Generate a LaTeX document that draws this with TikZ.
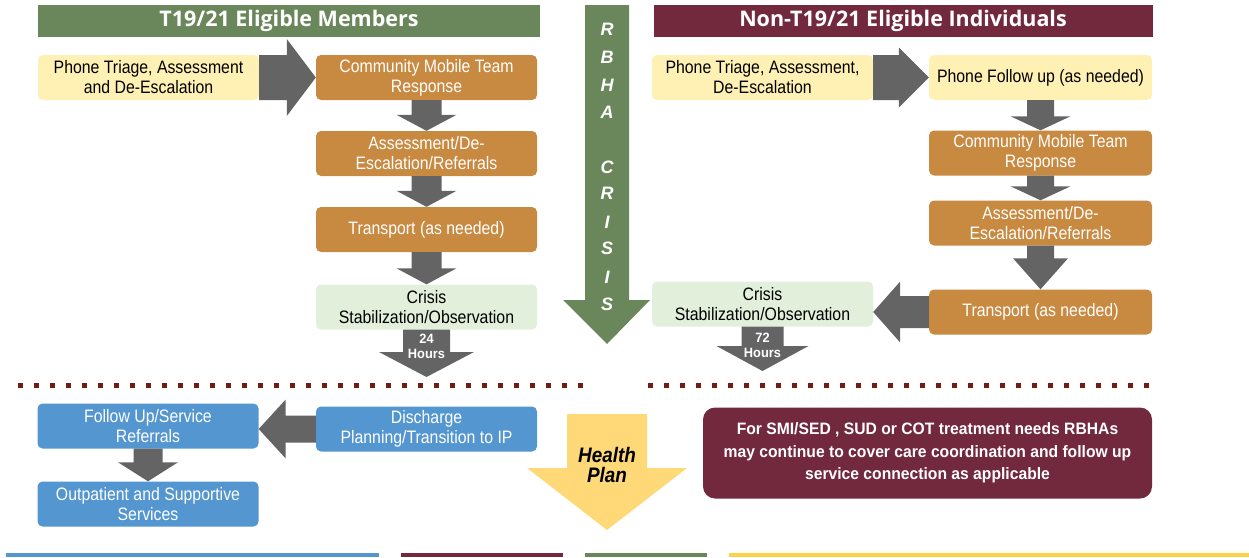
\documentclass[tikz,border=0pt]{standalone}
\usepackage{fontspec}
\setmainfont{Liberation Sans}
\newfontfamily\bxf[FakeStretch=0.88]{Liberation Sans}
\newfontfamily\ntf[FakeStretch=0.95]{Liberation Sans}
\newfontfamily\hpf[FakeStretch=0.9]{Liberation Sans}
\newfontfamily\hdf{Open Sans}
\usetikzlibrary{calc}
\definecolor{hdgreen}{RGB}{106,135,91}
\definecolor{hdmaroon}{RGB}{114,41,61}
\definecolor{boxorange}{RGB}{200,137,65}
\definecolor{boxyellow}{RGB}{255,241,180}
\definecolor{boxgreen}{RGB}{226,239,218}
\definecolor{arrgray}{RGB}{100,100,100}
\definecolor{boxblue}{RGB}{84,150,208}
\definecolor{hpyellow}{RGB}{255,217,119}
\definecolor{dotred}{RGB}{112,30,20}
\definecolor{stripyellow}{RGB}{250,212,70}
% down block arrow: #1 start, #2 tip, #3 shaft half width, #4 head half width, #5 head length
\newcommand{\darr}[5]{\fill[arr] let \p1=(#1), \p2=(#2) in
  (\x1-#3pt,\y1) -- (\x1+#3pt,\y1) -- (\x1+#3pt,\y2+#5pt) -- (\x1+#4pt,\y2+#5pt) --
  (\x1,\y2) -- (\x1-#4pt,\y2+#5pt) -- (\x1-#3pt,\y2+#5pt) -- cycle;}
% right block arrow
\newcommand{\rarr}[5]{\fill[arr] let \p1=(#1), \p2=(#2) in
  (\x1,\y1+#3pt) -- (\x2-#5pt,\y1+#3pt) -- (\x2-#5pt,\y1+#4pt) -- (\x2,\y1) --
  (\x2-#5pt,\y1-#4pt) -- (\x2-#5pt,\y1-#3pt) -- (\x1,\y1-#3pt) -- cycle;}
% left block arrow
\newcommand{\larr}[5]{\fill[arr] let \p1=(#1), \p2=(#2) in
  (\x1,\y1+#3pt) -- (\x2+#5pt,\y1+#3pt) -- (\x2+#5pt,\y1+#4pt) -- (\x2,\y1) --
  (\x2+#5pt,\y1-#4pt) -- (\x2+#5pt,\y1-#3pt) -- (\x1,\y1-#3pt) -- cycle;}
\tikzset{
  box/.style={rounded corners=5pt, minimum width=221pt, minimum height=45pt, inner sep=0pt,
    align=center, font=\bxf\fontsize{18}{20}\selectfont},
  obox/.style={box, fill=boxorange, text=white},
  ybox/.style={box, fill=boxyellow, text=black},
  gbox/.style={box, fill=boxgreen, text=black},
  bbox/.style={box, fill=boxblue, text=white},
  hdr/.style={minimum height=32pt, inner sep=0pt, text=white,
    font=\hdf\bfseries\fontsize{21.5}{24}\selectfont},
  arr/.style={fill=arrgray},
  rbha/.style={text=white, inner sep=0pt, font=\bfseries\itshape\fontsize{18}{18}\selectfont},
  hrs/.style={text=white, inner sep=0pt, align=center, font=\ntf\bfseries\fontsize{13.5}{15}\selectfont},
  dots/.style={dotred, line width=5pt, dash pattern=on 5pt off 11pt},
}
\begin{document}
\begin{tikzpicture}[x=1pt, y=-1pt]
\useasboundingbox (0,0) rectangle (1249,557);
% headers
\node[hdr, fill=hdgreen, minimum width=502pt] (hdL) at (289,21) {T19/21 Eligible Members};
\node[hdr, fill=hdmaroon, minimum width=499pt] (hdR) at (903,21) {Non-T19/21 Eligible Individuals};
% RBHA crisis arrow
\fill[hdgreen] (585,5) -- (629,5) -- (629,300) -- (650,300) -- (607,344) -- (563,300) -- (585,300) -- cycle;
\foreach \l/\yy [count=\i] in {R/29,B/57,H/85,A/112,C/167,R/193,I/222,S/248,I/277,S/304}
  \node[rbha] (rb\i) at (607,\yy) {\l};
% left column
\node[ybox] (phL) at (148.5,77.5) {Phone Triage, Assessment\\and De-Escalation};
\node[obox] (cmtL) at (426.5,77.5) {Community Mobile Team\\Response};
\node[obox] (asL) at (426.5,153.5) {Assessment/De-\\Escalation/Referrals};
\node[obox] (trL) at (426.5,229.5) {Transport (as needed)};
\node[gbox] (crL) at (426.5,307) {Crisis\\Stabilization/Observation};
\coordinate (h24) at (426.5,377);
% right column
\node[ybox] (phR) at (762.5,77.5) {Phone Triage, Assessment,\\De-Escalation};
\node[ybox, minimum width=223pt] (pfR) at (1040.5,77.5) {Phone Follow up (as needed)};
\node[obox, minimum width=223pt] (cmtR) at (1040.5,153) {Community Mobile Team\\Response};
\node[obox, minimum width=223pt] (asR) at (1040.5,223) {Assessment/De-\\Escalation/Referrals};
\node[obox, minimum width=223pt] (trR) at (1040.5,312) {Transport (as needed)};
\node[gbox] (crR) at (762.5,304) {Crisis\\Stabilization/Observation};
\coordinate (h72) at (762.5,371);
% arrows top
\rarr{phL.east}{cmtL.west}{22.5}{38.5}{29}
\rarr{phR.east}{pfR.west}{22.5}{30}{30}
\darr{cmtL.south}{asL.north}{15}{30}{16}
\darr{asL.south}{trL.north}{15}{30}{16}
\darr{trL.south}{crL.north}{15}{30}{16}
\darr{pfR.south}{cmtR.north}{13.5}{30}{14}
\darr{cmtR.south}{asR.north}{13.5}{30}{14}
\darr{asR.south}{trR.north}{13.5}{27.5}{31}
\larr{trR.west}{crR.east}{16}{30.5}{27}
\darr{crL.south}{h24}{23.5}{47.5}{25}
\darr{crR.south}{h72}{21}{46}{25}
\node[hrs] (t24) at (426.5,346.5) {24\\Hours};
\node[hrs] (t72) at (762.5,345.5) {72\\Hours};
% dotted separators
\draw[dots] (18,385) -- (593,385);
\draw[dots] (648,385) -- (1157,385);
% bottom section
\node[bbox] (fuL) at (148,426) {Follow Up/Service\\Referrals};
\node[bbox] (dcL) at (426.5,429) {Discharge\\Planning/Transition to IP};
\node[bbox] (opL) at (148,504) {Outpatient and Supportive\\Services};
\larr{dcL.west}{fuL.east}{13.5}{29.5}{27}
\darr{fuL.south}{opL.north}{14.5}{30}{19}
% health plan arrow
\fill[hpyellow] (567,414) -- (647,414) -- (647,468) -- (687,468) -- (607,530) -- (527,468) -- (567,468) -- cycle;
\node[align=center, inner sep=0pt, font=\hpf\bfseries\itshape\fontsize{21}{20}\selectfont] (hp) at (607,465) {Health\\Plan};
% note
\node[rounded corners=12pt, fill=hdmaroon, minimum width=449pt, minimum height=91pt, inner sep=0pt,
  align=center, text=white, font=\ntf\bfseries\fontsize{16.5}{22.5}\selectfont] (note) at (927.5,453)
  {For SMI/SED , SUD or COT treatment needs RBHAs\\may continue to cover care coordination and follow up\\service connection as applicable};
% bottom strips
\fill[boxblue] (6,553) rectangle (379,557);
\fill[hdmaroon] (401,553) rectangle (563,557);
\fill[hdgreen] (585,553) rectangle (707,557);
\fill[stripyellow] (729,553) rectangle (1249,557);
\end{tikzpicture}
\end{document}
